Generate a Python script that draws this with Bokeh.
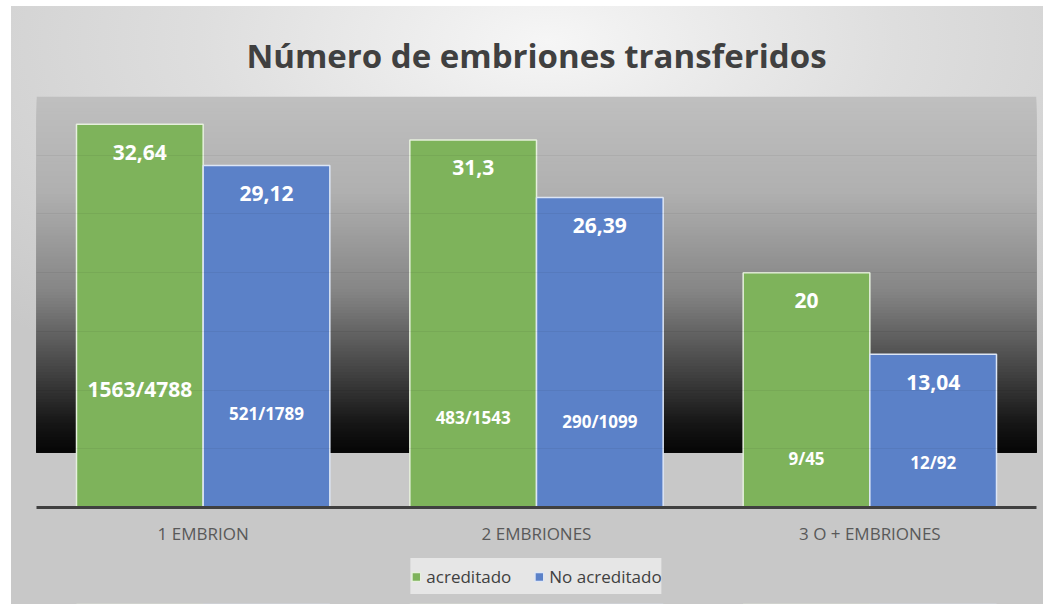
from bokeh.plotting import figure
from bokeh.layouts import column
from bokeh.models import ColumnDataSource, Range1d, BoxAnnotation, Legend, LegendItem, FixedTicker
from bokeh.transform import dodge
from bokeh.core.properties import value
from bokeh.embed import file_html
from bokeh.resources import INLINE

# ---------------- data ----------------
categories = ["1 EMBRION", "2 EMBRIONES", "3 O + EMBRIONES"]
series_names = ["acreditado", "No acreditado"]
acreditado = [32.64, 31.3, 20]
no_acreditado = [29.12, 26.39, 13.04]
acreditado_num = [1563, 483, 9]
acreditado_den = [4788, 1543, 45]
no_acreditado_num = [521, 290, 12]
no_acreditado_den = [1789, 1099, 92]
y_ticks = [0, 5, 10, 15, 20, 25, 30, 35]

# ---------------- layout / style ----------------
acc_frac_y = [10.12, 7.63, 4.14]
noacc_frac_y = [8.02, 7.34, 3.85]
acc_frac_size = ["21px", "17px", "17px"]
noacc_frac_size = ["17px", "17px", "17px"]
GREEN = "#7eb35b"
BLUE = "#5b81c8"
FONT = "Open Sans"
BG_BOTTOM = 4.7
BG_TOP = 35
# gradient stops (data level, grey value)
grad_stops = [(35.0, 0xbf), (27.0, 0xb0), (18.5, 0x85), (11.4, 0x40), (7.2, 0x15), (4.7, 0x05)]

def grey_at(y):
    for (y0, g0), (y1, g1) in zip(grad_stops[:-1], grad_stops[1:]):
        if y1 <= y <= y0:
            t = (y0 - y) / (y0 - y1)
            g = round(g0 + (g1 - g0) * t)
            return "#%02x%02x%02x" % (g, g, g)
    return "#050505"

def fmt(v):
    return f"{v:g}".replace(".", ",")

p = figure(x_range=categories, y_range=Range1d(0, 35), width=1043, height=548,
           output_backend="svg", toolbar_location=None,
           min_border_left=36, min_border_right=7, min_border_top=96, min_border_bottom=41,
           border_fill_color=None, background_fill_color=None, outline_line_color=None)

# dark gradient backdrop
n = 120
for i in range(n):
    top = BG_TOP - (BG_TOP - BG_BOTTOM) * i / n
    p.add_layout(BoxAnnotation(bottom=BG_BOTTOM, top=top, fill_color=grey_at(top),
                               fill_alpha=1.0, line_color=None, level="underlay"))

src_a = ColumnDataSource(dict(cat=categories, val=acreditado,
                              lbl=[fmt(v) for v in acreditado],
                              frac=[f"{a}/{b}" for a, b in zip(acreditado_num, acreditado_den)],
                              fy=acc_frac_y, fs=acc_frac_size))
src_n = ColumnDataSource(dict(cat=categories, val=no_acreditado,
                              lbl=[fmt(v) for v in no_acreditado],
                              frac=[f"{a}/{b}" for a, b in zip(no_acreditado_num, no_acreditado_den)],
                              fy=noacc_frac_y, fs=noacc_frac_size))

off = 0.19
bw = 0.38
bar_style_a = dict(fill_color=GREEN, line_color="#e6f0dd", line_width=1.5)
bar_style_n = dict(fill_color=BLUE, line_color="#dde6f5", line_width=1.5)
ra = p.vbar(x=dodge("cat", -off, range=p.x_range), top="val", width=bw, source=src_a, **bar_style_a)
rn = p.vbar(x=dodge("cat", off, range=p.x_range), top="val", width=bw, source=src_n, **bar_style_n)

for src, o in ((src_a, -off), (src_n, off)):
    p.text(x=dodge("cat", o, range=p.x_range), y="val", text="lbl", source=src,
           y_offset=28, text_align="center", text_baseline="middle", text_color="white",
           text_font=value(FONT), text_font_style="bold", text_font_size="21px")
    p.text(x=dodge("cat", o, range=p.x_range), y="fy", text="frac", source=src,
           text_align="center", text_baseline="middle", text_color="white",
           text_font=value(FONT), text_font_style="bold", text_font_size="fs")

# title
p.title.text = "Número de embriones transferidos"
p.title.align = "center"
p.title.text_font = FONT
p.title.text_font_style = "bold"
p.title.text_font_size = "33px"
p.title.text_color = "#404040"
if "standoff" in p.title.properties():
    p.title.standoff = 38

# axes / grid
p.yaxis.visible = False
p.yaxis.ticker = FixedTicker(ticks=y_ticks)
p.ygrid.ticker = FixedTicker(ticks=y_ticks)
p.ygrid.grid_line_color = "#000000"
p.ygrid.grid_line_alpha = 0.05
p.ygrid.level = "overlay"
p.xgrid.visible = False
p.xaxis.axis_line_color = "#404040"
p.xaxis.axis_line_width = 3
p.xaxis.major_tick_line_color = None
p.xaxis.minor_tick_line_color = None
p.xaxis.major_label_text_font = FONT
p.xaxis.major_label_text_font_size = "17px"
p.xaxis.major_label_text_color = "#595959"
p.xaxis.major_label_standoff = 8

# legend strip: a small companion figure below the chart, same series, bars out of view
q = figure(x_range=categories, y_range=Range1d(100, 101), width=1043, height=56,
           output_backend="svg", toolbar_location=None,
           min_border_left=28, min_border_right=0, min_border_top=0, min_border_bottom=0,
           border_fill_color=None, background_fill_color=None, outline_line_color=None)
q.axis.visible = False
q.grid.visible = False
la = q.vbar(x=dodge("cat", -off, range=q.x_range), top="val", width=bw, source=src_a, **bar_style_a)
ln = q.vbar(x=dodge("cat", off, range=q.x_range), top="val", width=bw, source=src_n, **bar_style_n)
legend = Legend(items=[LegendItem(label=series_names[0], renderers=[la]),
                       LegendItem(label=series_names[1], renderers=[ln])],
                orientation="horizontal", location="center",
                background_fill_color="#e6e6e6", background_fill_alpha=1.0,
                border_line_color=None, label_text_font=FONT, label_text_font_size="17px",
                label_text_color="#404040", glyph_width=11, glyph_height=11,
                label_height=36, label_standoff=5, spacing=22, padding=10, margin=0)
q.add_layout(legend)

layout = column(p, q, spacing=0)
layout.styles = {
    "background-color": "white",
    "background-image": "radial-gradient(ellipse 75% 65% at 52% 6%, #f6f6f6 0%, #dedede 45%, #c8c8c8 100%)",
    "background-position": "11px 6px",
    "background-size": "calc(100% - 11px) calc(100% - 6px)",
    "background-repeat": "no-repeat",
}

open("out.html", "w").write(file_html(layout, INLINE))
